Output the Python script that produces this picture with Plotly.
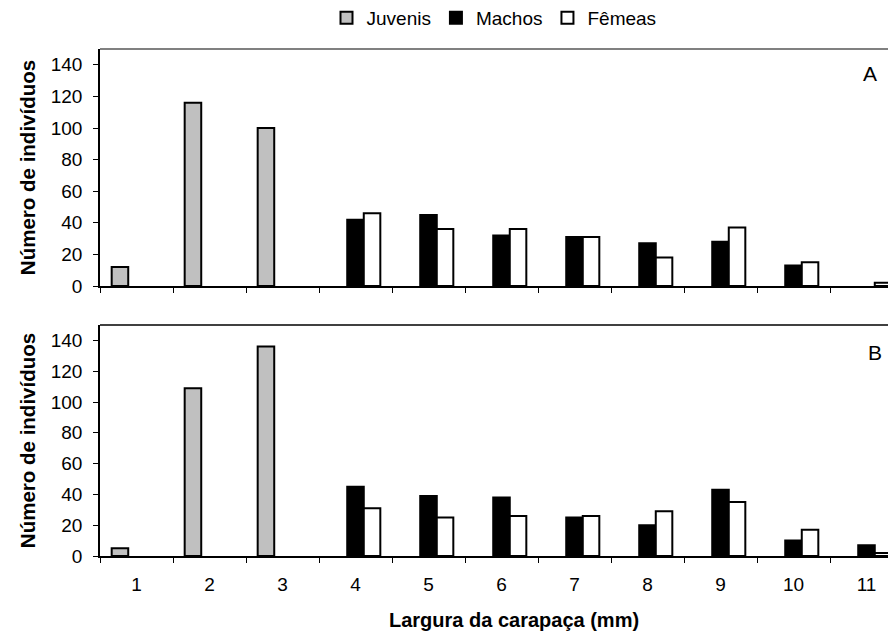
import plotly.graph_objects as go

categories = ["1", "2", "3", "4", "5", "6", "7", "8", "9", "10", "11"]

juvenis_a = [12, 116, 100, 0, 0, 0, 0, 0, 0, 0, 0]
machos_a = [0, 0, 0, 42, 45, 32, 31, 27, 28, 13, 0]
femeas_a = [0, 0, 0, 46, 36, 36, 31, 18, 37, 15, 2]

juvenis_b = [5, 109, 136, 0, 0, 0, 0, 0, 0, 0, 0]
machos_b = [0, 0, 0, 45, 39, 38, 25, 20, 43, 10, 7]
femeas_b = [0, 0, 0, 31, 25, 26, 26, 29, 35, 17, 2]

series_names = ["Juvenis", "Machos", "Fêmeas"]
series_colors = ["#C0C0C0", "#000000", "#FFFFFF"]

FONT = "Arial, Liberation Sans, sans-serif"


def nz(vals):
    return [v if v else None for v in vals]


fig = go.Figure()
panels = [
    ("x", "y", [juvenis_a, machos_a, femeas_a], True),
    ("x2", "y2", [juvenis_b, machos_b, femeas_b], False),
]
for xa, ya, data, show in panels:
    for name, color, vals in zip(series_names, series_colors, data):
        fig.add_trace(go.Bar(
            x=categories, y=nz(vals), name=name, xaxis=xa, yaxis=ya,
            marker=dict(color=color, line=dict(color="#000000", width=2)),
            showlegend=show, legendgroup=name,
        ))

# page body has an 8px margin: figure coords = screen coords - 8
OFF = 8
W, H = 896 - OFF, 637 - OFF


def fx(px):
    return (px - OFF) / W


def fy(py):
    return 1 - (py - OFF) / H


x0 = fx(100)
xr = [-0.5, -0.5 + 11 * (W - (100 - OFF)) / 803]

axis_common = dict(
    type="category", range=xr, showline=True, linecolor="#000000", linewidth=1.5,
    ticks="outside", tickson="boundaries", ticklen=5, tickcolor="#000000",
    tickwidth=1, showgrid=False, zeroline=False, automargin=False,
    ticklabelstandoff=10,
    tickfont=dict(family=FONT, size=19, color="#000000"),
)
yaxis_common = dict(
    range=[0, 150], tickvals=[0, 20, 40, 60, 80, 100, 120, 140],
    showline=True, linecolor="#000000", linewidth=1.5, ticks="outside",
    ticklen=5, tickcolor="#000000", showgrid=False, zeroline=False,
    automargin=False, ticklabelstandoff=7,
    tickfont=dict(family=FONT, size=19, color="#000000"),
    title=dict(text="<b>Número de indivíduos</b>",
               font=dict(family=FONT, size=20.5, color="#000000"), standoff=10),
)

dA = [fy(286), fy(49)]
dB = [fy(556), fy(325)]

fig.update_layout(
    width=W, height=H,
    margin=dict(l=0, r=0, t=0, b=0, autoexpand=False),
    plot_bgcolor="#FFFFFF", paper_bgcolor="#FFFFFF",
    barmode="group", bargap=0.32, bargroupgap=0,
    font=dict(family=FONT, size=19, color="#000000"),
    xaxis=dict(domain=[x0, 1], anchor="y", showticklabels=False, **axis_common),
    yaxis=dict(domain=dA, anchor="x", **yaxis_common),
    xaxis2=dict(domain=[x0, 1], anchor="y2", **axis_common),
    yaxis2=dict(domain=dB, anchor="x2", **yaxis_common),
    legend=dict(orientation="h", x=fx(494), xanchor="center", y=fy(18), yanchor="middle",
                font=dict(family=FONT, size=19, color="#000000"),
                itemwidth=30, tracegroupgap=0, bgcolor="rgba(0,0,0,0)"),
    shapes=[
        dict(type="line", xref="paper", yref="y domain", x0=x0, x1=1, y0=1, y1=1,
             line=dict(color="#808080", width=2)),
        dict(type="line", xref="paper", yref="y2 domain", x0=x0, x1=1, y0=1, y1=1,
             line=dict(color="#000000", width=1.5)),
    ],
    annotations=[
        dict(text="A", xref="paper", yref="paper", x=fx(870), y=fy(73),
             xanchor="center", yanchor="middle",
             showarrow=False, font=dict(family=FONT, size=21, color="#000000")),
        dict(text="B", xref="paper", yref="paper", x=fx(875), y=fy(352),
             xanchor="center", yanchor="middle",
             showarrow=False, font=dict(family=FONT, size=21, color="#000000")),
        dict(text="<b>Largura da carapaça (mm)</b>", xref="paper", yref="paper",
             x=fx(514), y=fy(620), xanchor="center", yanchor="middle",
             showarrow=False, font=dict(family=FONT, size=20, color="#000000")),
    ],
)

fig.write_html("out.html")
